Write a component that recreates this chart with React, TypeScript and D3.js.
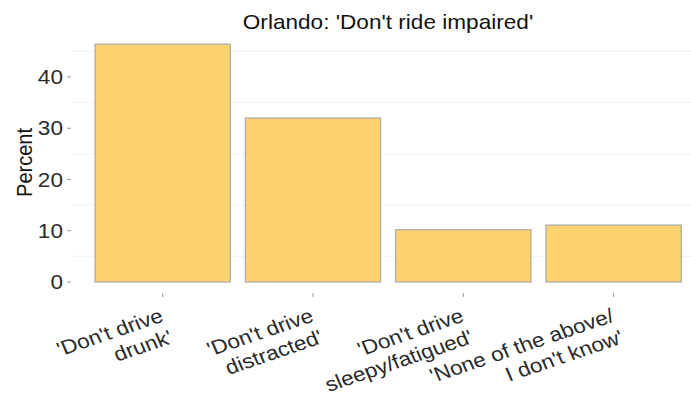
import React from "react";
import * as d3 from "d3";

const categories = ["drunk", "distracted", "sleepy", "none"];
const labelLines: string[][] = [
  ["'Don't drive", "drunk'"],
  ["'Don't drive", "distracted'"],
  ["'Don't drive", "sleepy/fatigued'"],
  ["'None of the above/", "I don't know'"],
];
const values = [46.4, 32.0, 10.2, 11.1];
const yTicks = [0, 10, 20, 30, 40];
const yMinor = [5, 15, 25, 35, 45];
const title = "Orlando: 'Don't ride impaired'";
const yTitle = "Percent";

const W = 691;
const H = 407;
const SX = 1.13;
const FONT = "'Liberation Sans', Arial, sans-serif";

export default function App() {
  const x = d3
    .scaleBand<string>()
    .domain(categories)
    .range([72.5, 703.8])
    .paddingInner(0.1)
    .paddingOuter(0.15);
  const y = d3.scaleLinear().domain([0, 48.72]).range([282, 32.3]);
  const panelLeft = 72;
  const panelRight = W;
  const ang = 21;
  const lh = 23;

  return (
    <svg
      width={W}
      height={H}
      style={{ position: "absolute", left: 0, top: 0, background: "#fff" }}
      fontFamily={FONT}
    >
      {yMinor.map((v) => (
        <line
          key={"g" + v}
          x1={panelLeft}
          x2={panelRight}
          y1={y(v)}
          y2={y(v)}
          stroke="#f1f1f1"
          strokeWidth={1}
        />
      ))}
      {categories.map((c, i) => (
        <rect
          key={c}
          x={x(c)!}
          y={y(values[i])}
          width={x.bandwidth()}
          height={y(0) - y(values[i])}
          fill="#FDD36F"
          stroke="#a8a8a8"
          strokeWidth={1.2}
        />
      ))}
      {yTicks.map((v) => (
        <g key={"yt" + v}>
          <line x1={67} x2={71} y1={y(v)} y2={y(v)} stroke="#999" strokeWidth={1} />
          <text
            transform={`translate(63,${y(v)}) scale(${SX},1)`}
            textAnchor="end"
            dy="0.36em"
            fontSize={20}
            fill="#2a2a2a"
          >
            {v}
          </text>
        </g>
      ))}
      {categories.map((c, i) => {
        const cx = x(c)! + x.bandwidth() / 2;
        return (
          <g key={"xt" + c}>
            <line x1={cx} x2={cx} y1={293} y2={297} stroke="#999" strokeWidth={1} />
            <g transform={`translate(${cx + 2},321) scale(${SX},1) rotate(${-ang})`}>
              {labelLines[i].map((t, j) => (
                <text
                  key={j}
                  x={0}
                  y={j * lh}
                  textAnchor="end"
                  fontSize={20}
                  fill="#2a2a2a"
                >
                  {t}
                </text>
              ))}
            </g>
          </g>
        );
      })}
      <text
        transform={`translate(32,162.5) scale(${SX},1) rotate(-90)`}
        textAnchor="middle"
        fontSize={20}
        fill="#111"
      >
        {yTitle}
      </text>
      <text
        transform={`translate(388,29) scale(${SX},1)`}
        textAnchor="middle"
        fontSize={20}
        fill="#111"
      >
        {title}
      </text>
    </svg>
  );
}
